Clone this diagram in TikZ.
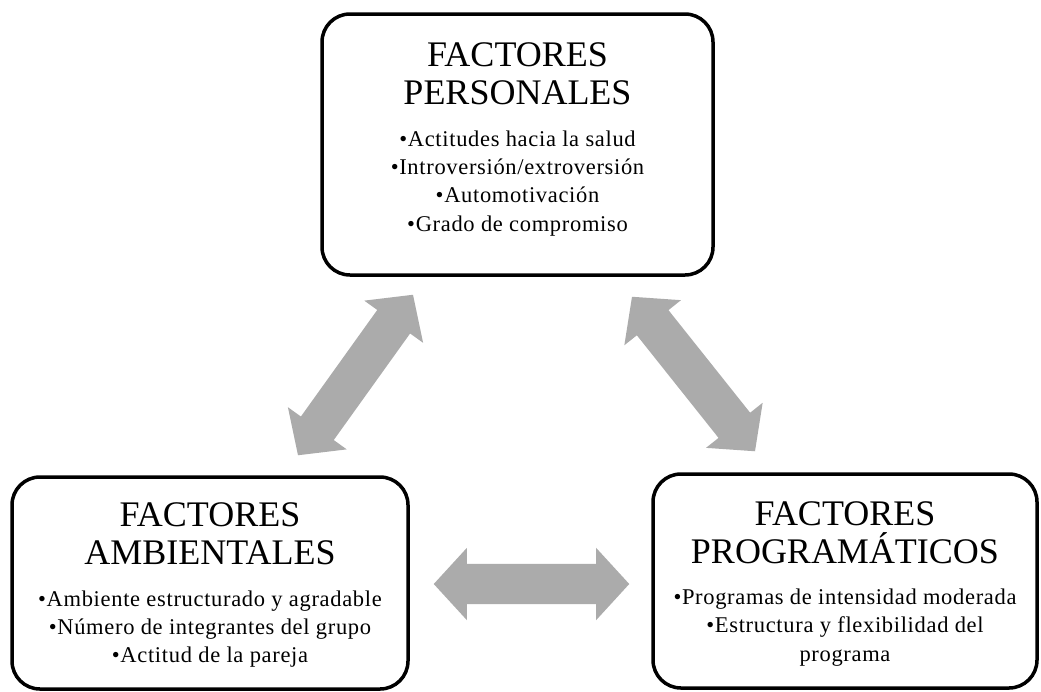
\documentclass[tikz,border=0pt]{standalone}
\usepackage{fontspec}
\setmainfont{Liberation Serif}
\usetikzlibrary{shapes.arrows,calc,positioning}

\begin{document}
\begin{tikzpicture}[x=1pt,y=-1pt,
	factor/.style={draw, line width=3.5pt, rounded corners=28pt, inner sep=0pt},
	heading/.style={align=center, inner sep=0pt, font=\fontsize{36}{38}\selectfont},
	items/.style={align=center, inner sep=0pt, font=\fontsize{22.5}{28.3}\selectfont\addfontfeatures{LetterSpace=3}},
	link/.style={double arrow, fill={rgb,255:red,171;green,171;blue,171}, inner sep=20pt,
		double arrow head extend=16pt, double arrow tip angle=95, midway, sloped}]
	\useasboundingbox (0,0) rectangle (1041,691);

	% boxes
	\node[factor, minimum width=391pt, minimum height=261pt] (personal) at (517.5,144.5) {};
	\node[factor, minimum width=396pt, minimum height=212pt] (ambient) at (210,583) {};
	\node[factor, minimum width=384pt, minimum height=214pt] (program) at (845,581) {};

	% texts
	\node[heading] (personalT) at (517.5,74) {FACTORES\\PERSONALES};
	\node[items, below=25pt of personalT] (personalI) {•Actitudes hacia la salud\\•Introversión/extroversión\\•Automotivación\\•Grado de compromiso};
	\node[heading] (ambientT) at (210,534) {FACTORES\\AMBIENTALES};
	\node[items, below=25pt of ambientT] (ambientI) {•Ambiente estructurado y agradable\\•Número de integrantes del grupo\\•Actitud de la pareja};
	\node[heading] (programT) at (845,532.5) {FACTORES\\PROGRAMÁTICOS};
	\node[items, below=25pt of programT] (programI) {•Programas de intensidad moderada\\•Estructura y flexibilidad del\\programa};

	% arrows
	\path let \p1=([shift={(88,-20)}]ambient.north), \p2=([shift={(-104.5,18)}]personal.south),
		\n1={veclen(\x2-\x1,\y2-\y1)} in (\p1) -- (\p2) node[link, minimum height=\n1] (leftlink) {};
	\path let \p1=([shift={(114.5,20)}]personal.south), \p2=([shift={(-90,-21)}]program.north),
		\n1={veclen(\x2-\x1,\y2-\y1)} in (\p1) -- (\p2) node[link, minimum height=\n1] (rightlink) {};
	\path let \p1=([shift={(24,1)}]ambient.east), \p2=([shift={(-22,3)}]program.west),
		\n1={veclen(\x2-\x1,\y2-\y1)} in (\p1) -- (\p2) node[link, minimum height=\n1] (bottomlink) {};
\end{tikzpicture}
\end{document}
